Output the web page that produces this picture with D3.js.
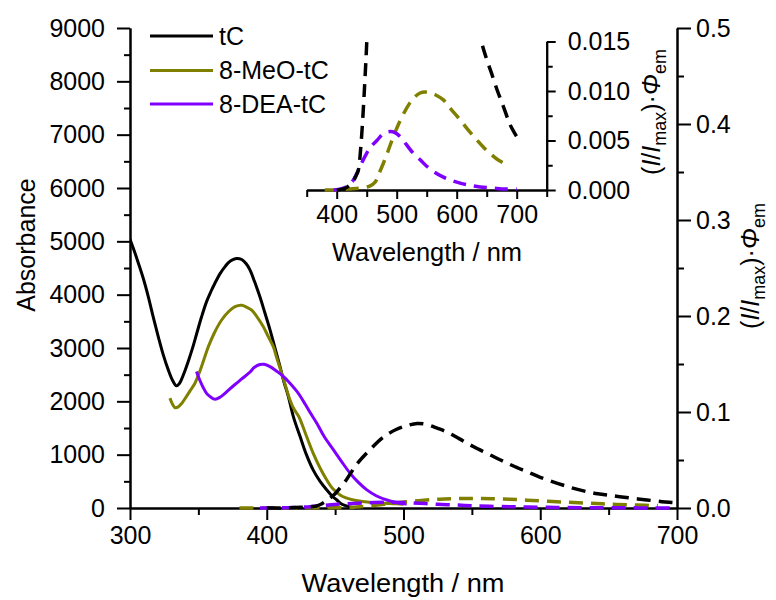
<!DOCTYPE html>
<html>
<head>
<meta charset="utf-8">
<script src="https://cdn.jsdelivr.net/npm/d3@7"></script>
<style>
  html, body { margin: 0; padding: 0; background: #fff; }
  svg { display: block; font-family: "Liberation Sans", Arial, sans-serif; }
</style>
</head>
<body>
<svg id="chart" width="776" height="600"></svg>
<script>
// ---------- absorbance spectra (left axis) ----------
const tcAbsWl   = [300, 303, 306, 310, 313.4, 317, 320.7, 324, 328, 331, 334, 336, 338, 340, 343, 346, 349, 352.4, 356, 359, 362, 366, 369.5, 372, 375.6, 378, 381.7, 385, 387.8, 391, 395, 398.5, 402.4, 406, 409.7, 412.5, 415.8, 419.5, 424.4, 429, 434, 439, 443.9, 448, 451.2, 455, 460, 466];
const tcAbs     = [5040, 4830, 4600, 4280, 3960, 3580, 3210, 2900, 2590, 2400, 2290, 2330, 2430, 2560, 2780, 3020, 3290, 3590, 3870, 4050, 4210, 4400, 4525, 4600, 4660, 4680, 4660, 4580, 4460, 4250, 3960, 3670, 3340, 3000, 2650, 2370, 2090, 1710, 1340, 1000, 710, 500, 340, 220, 150, 70, 25, 0];

const meoAbsWl  = [329.2, 331, 333, 335, 337.8, 341, 344, 347.5, 351, 354, 357.3, 362, 367, 372, 376.8, 381.7, 385, 389, 393, 397.5, 401, 404.8, 407, 410.9, 414, 417, 420, 423.5, 429, 434, 439, 443.9, 448, 453.6, 458, 463.4, 470, 478, 485.3, 495, 500];
const meoAbs    = [2060, 1950, 1880, 1890, 1960, 2080, 2200, 2340, 2560, 2780, 3025, 3300, 3525, 3680, 3775, 3800, 3770, 3710, 3580, 3400, 3220, 3025, 2840, 2525, 2270, 2025, 1850, 1710, 1350, 1025, 750, 525, 370, 245, 190, 150, 120, 100, 90, 80, 70];

const deaAbsWl  = [348.6, 351, 353.5, 356, 359, 362.2, 366, 369, 372, 377, 381.7, 387.8, 391, 395, 398, 402.4, 407, 412.1, 417, 421.9, 424.4, 428, 431.7, 436.6, 442, 448.8, 455, 461, 467, 473.2, 480, 487.8, 495, 502.4];
const deaAbs    = [2560, 2400, 2260, 2150, 2080, 2040, 2080, 2140, 2210, 2320, 2420, 2550, 2640, 2690, 2695, 2650, 2570, 2470, 2340, 2190, 2100, 1950, 1790, 1590, 1340, 1090, 860, 650, 480, 340, 230, 150, 100, 75];

// ---------- emission spectra, (I/Imax)·Φem (right axis and inset) ----------
const tcEmWl    = [400, 415, 425, 432, 436, 440, 444, 447, 450, 453, 458, 466, 475, 485.4, 495, 503, 510, 517, 525, 532, 541, 551, 561, 571, 580, 590, 600, 612, 623, 634, 642, 650, 658, 668, 678, 689, 696, 702];
const tcEm      = [0, 0.0002, 0.0007, 0.0014, 0.002, 0.0042, 0.0078, 0.0111, 0.0148, 0.02, 0.029, 0.046, 0.06, 0.074, 0.082, 0.086, 0.088, 0.087, 0.083, 0.079, 0.072, 0.064, 0.057, 0.05, 0.044, 0.038, 0.032, 0.026, 0.021, 0.017, 0.0148, 0.0132, 0.0118, 0.01, 0.0084, 0.0066, 0.0058, 0.0052];

const meoEmWl   = [380, 400, 420, 440, 455, 464, 470, 477.8, 486, 494.4, 508, 522, 530, 539, 547, 555.6, 565, 577.8, 590, 605.6, 620, 633, 645, 655.6, 670, 686];
const meoEm     = [0, 0, 0.0001, 0.0002, 0.0004, 0.0008, 0.0016, 0.0027, 0.004, 0.0054, 0.0073, 0.0088, 0.0094, 0.0098, 0.0099, 0.0098, 0.0096, 0.0091, 0.0082, 0.0071, 0.006, 0.0051, 0.0043, 0.0037, 0.003, 0.0025];

const deaEmWl   = [395, 411, 420, 427.8, 436, 447.2, 456, 467, 478, 489, 497, 505.6, 516, 527.8, 540, 550, 563, 577.8, 590, 605.6, 620, 639, 660, 680, 700];
const deaEm     = [0, 0.0002, 0.0005, 0.001, 0.002, 0.0034, 0.0043, 0.005, 0.0057, 0.0059, 0.0058, 0.0054, 0.0046, 0.0037, 0.003, 0.0024, 0.0018, 0.0013, 0.001, 0.0007, 0.0005, 0.0003, 0.0002, 0.0001, 0.0001];

// ---------- axis ticks and legend ----------
const xMain   = [300, 400, 500, 600, 700];
const xMainMinor = [350, 450, 550, 650];
const yAbsTicks  = [0, 1000, 2000, 3000, 4000, 5000, 6000, 7000, 8000, 9000];
const yAbsMinor  = [500, 1500, 2500, 3500, 4500, 5500, 6500, 7500, 8500];
const yEmTicks   = [0, 0.1, 0.2, 0.3, 0.4, 0.5];
const yEmMinor   = [0.05, 0.15, 0.25, 0.35, 0.45];
const xInsetTicks = [400, 500, 600, 700];
const xInsetMinor = [350, 450, 550, 650, 750];
const yInsetTicks = [0, 0.005, 0.010, 0.015];
const yInsetMinor = [0.0025, 0.0075, 0.0125];

const seriesNames  = ["tC", "8-MeO-tC", "8-DEA-tC"];
const seriesColors = ["#000000", "#808000", "#8000ff"];

// ---------- drawing ----------
const svg = d3.select("#chart");
const FONT = 25;

const x   = d3.scaleLinear().domain([300, 700]).range([130, 677]);
const yA  = d3.scaleLinear().domain([0, 9000]).range([508, 28]);
const yE  = d3.scaleLinear().domain([0, 0.5]).range([508, 28]);

const xi  = d3.scaleLinear().domain([350, 750]).range([306.7, 546.7]);
const yi  = d3.scaleLinear().domain([0, 0.015]).range([190, 41.5]);

const zip = (a, b) => a.map((v, i) => [v, b[i]]);

svg.append("defs").call(d => {
  d.append("clipPath").attr("id", "clipMain").append("rect")
    .attr("x", 130).attr("y", 20).attr("width", 547).attr("height", 492);
  d.append("clipPath").attr("id", "clipInset").append("rect")
    .attr("x", 306.7).attr("y", 40).attr("width", 240).attr("height", 152);
});

function styleAxis(g) {
  g.selectAll("path, line").attr("stroke", "#000").attr("stroke-width", 2);
  g.selectAll("text").attr("fill", "#000").style("font-size", FONT + "px")
    .style("font-family", '"Liberation Sans", Arial, sans-serif');
}

function axisPair(axisFn, scale, major, minor, fmt, majorLen, minorLen, transform, pad) {
  svg.append("g").attr("transform", transform)
    .call(axisFn(scale).tickValues(minor).tickSize(minorLen).tickSizeOuter(0).tickFormat(""))
    .call(styleAxis);
  svg.append("g").attr("transform", transform)
    .call(axisFn(scale).tickValues(major).tickSize(majorLen).tickSizeOuter(0).tickFormat(fmt).tickPadding(pad))
    .call(styleAxis);
}

// main axes
axisPair(d3.axisBottom, x, xMain, xMainMinor, d3.format("d"), 12, 7, "translate(0,508)", 6);
axisPair(d3.axisLeft, yA, yAbsTicks, yAbsMinor, d3.format("d"), 13, 6, "translate(130,0)", 12);
axisPair(d3.axisRight, yE, yEmTicks, yEmMinor, d3.format(".1f"), 14, 7, "translate(677,0)", 5);

// main spectra
const curve = d3.curveCatmullRom.alpha(0.5);
const lineA = d3.line().x(d => x(d[0])).y(d => yA(d[1])).curve(curve);
const lineE = d3.line().x(d => x(d[0])).y(d => yE(d[1])).curve(curve);

const mainG = svg.append("g").attr("clip-path", "url(#clipMain)");
const absSets = [zip(tcAbsWl, tcAbs), zip(meoAbsWl, meoAbs), zip(deaAbsWl, deaAbs)];
const emSets  = [zip(tcEmWl, tcEm), zip(meoEmWl, meoEm), zip(deaEmWl, deaEm)];

absSets.forEach((s, i) => {
  mainG.append("path").datum(s).attr("d", lineA)
    .attr("fill", "none").attr("stroke", seriesColors[i]).attr("stroke-width", 3)
    .attr("stroke-linejoin", "round");
});
[1, 2, 0].forEach(i => {
  mainG.append("path").datum(emSets[i]).attr("d", lineE)
    .attr("fill", "none").attr("stroke", seriesColors[i]).attr("stroke-width", 3.5)
    .attr("stroke-dasharray", "14,8");
});

// inset axes
axisPair(d3.axisBottom, xi, xInsetTicks, xInsetMinor, d3.format("d"), 9, 7, "translate(0,190)", 6);
axisPair(d3.axisRight, yi, yInsetTicks, yInsetMinor, d3.format(".3f"), 9, 6, "translate(546.7,0)", 12);

// inset spectra
const lineI = d3.line().x(d => xi(d[0])).y(d => yi(d[1])).curve(curve);
const insetG = svg.append("g").attr("clip-path", "url(#clipInset)");
[1, 2, 0].forEach(i => {
  insetG.append("path").datum(emSets[i]).attr("d", lineI)
    .attr("fill", "none").attr("stroke", seriesColors[i]).attr("stroke-width", 3.5)
    .attr("stroke-dasharray", "13,8");
});

// axis titles
function txt(xp, yp, s, rot, len) {
  const t = svg.append("text")
    .attr("transform", `translate(${xp},${yp})` + (rot ? ` rotate(${rot})` : ""))
    .attr("text-anchor", "middle").style("font-size", FONT + "px").attr("fill", "#000").text(s);
  if (len) t.attr("textLength", len).attr("lengthAdjust", "spacingAndGlyphs");
  return t;
}
txt(403, 592, "Wavelength / nm", 0, 203);
txt(427, 261, "Wavelength / nm", 0, 190);
txt(35, 245, "Absorbance", -90);

function emLabel(xp, yp) {
  const t = svg.append("text")
    .attr("transform", `translate(${xp},${yp}) rotate(-90)`)
    .attr("text-anchor", "middle").style("font-size", FONT + "px").attr("fill", "#000");
  t.append("tspan").text("(");
  t.append("tspan").style("font-style", "italic").text("I");
  t.append("tspan").text("/");
  t.append("tspan").style("font-style", "italic").text("I");
  t.append("tspan").attr("dy", 6).style("font-size", "18px").text("max");
  t.append("tspan").attr("dy", -6).text(")·");
  t.append("tspan").style("font-style", "italic").text("Φ");
  t.append("tspan").attr("dy", 6).style("font-size", "18px").text("em");
}
emLabel(759, 266);
emLabel(660, 112);

// legend
const legendY = [36, 70.5, 104];
seriesNames.forEach((name, i) => {
  svg.append("line").attr("x1", 150).attr("x2", 213).attr("y1", legendY[i]).attr("y2", legendY[i])
    .attr("stroke", seriesColors[i]).attr("stroke-width", 3);
  svg.append("text").attr("x", 219).attr("y", legendY[i]).attr("dy", "0.35em")
    .style("font-size", FONT + "px").attr("fill", "#000").text(name);
});
</script>
</body>
</html>
